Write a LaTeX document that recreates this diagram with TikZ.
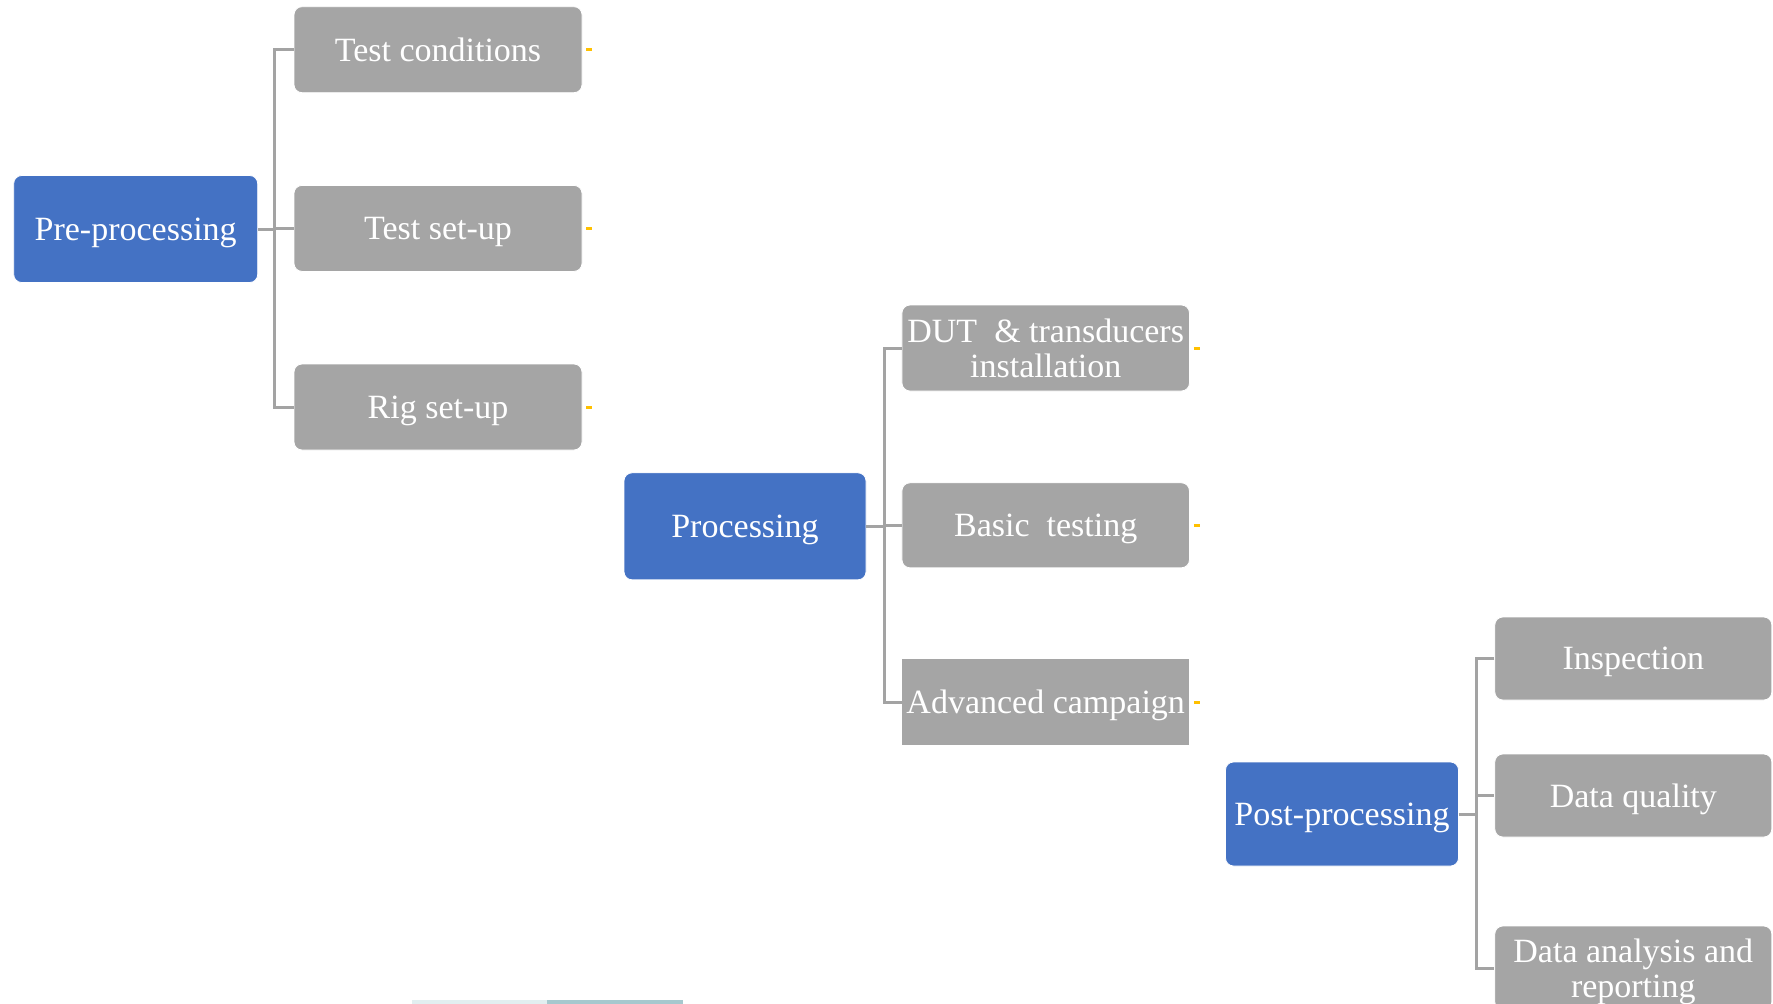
\documentclass[tikz,border=0pt]{standalone}
\usepackage{fontspec}
\setmainfont{Liberation Serif}
\definecolor{boxblue}{HTML}{4472C4}
\definecolor{boxgray}{HTML}{A5A5A5}
\definecolor{linegray}{HTML}{A3A3A3}
\definecolor{tickyellow}{HTML}{FFC000}
\definecolor{stripA}{HTML}{E2EEF0}
\definecolor{stripB}{HTML}{A6C8CE}
\begin{document}
\begin{tikzpicture}[x=1pt,y=-1pt,
  base/.style={rectangle, rounded corners=8pt, text=white, align=center, inner sep=0pt,
    font=\fontsize{34}{35}\selectfont, text depth=0pt, draw=white, line width=0.8pt},
  bluebox/.style={base, fill=boxblue},
  graybox/.style={base, fill=boxgray, minimum width=288pt, minimum height=86pt},
  conn/.style={draw=linegray, line width=3pt},
  tickmark/.style={draw=tickyellow, line width=3pt}]
\useasboundingbox (0,0) rectangle (1773,1004);
\clip (0,0) rectangle (1773,1004);
\fill[white] (0,0) rectangle (1773,1004);

% bracket coordinates
\coordinate (b1) at (274.8,0);
\coordinate (b2) at (884.5,0);
\coordinate (b3) at (1476.6,0);

% column 0: parents
\node[bluebox, minimum width=244pt, minimum height=107pt] (pre) at (135.7,229) {Pre-processing};
\node[bluebox, minimum width=242pt, minimum height=107pt] (proc) at (745,526.3) {Processing};
\node[bluebox, minimum width=233pt, minimum height=104pt] (post) at (1342,814) {Post-processing};

% column 1
\node[graybox] (tc) at (438,49.7) {Test conditions};
\node[graybox] (ts) at (438,228.4) {Test set-up};
\node[graybox] (rs) at (438,407) {Rig set-up};

% column 2
\node[graybox, minimum width=287.5pt] (dut) at (1045.7,348) {DUT\ \ \& transducers\\installation};
\node[graybox, minimum width=287.5pt, minimum height=85pt] (bt) at (1045.7,525.3) {Basic\ \ testing};
\node[graybox, minimum width=287.5pt, rounded corners=0pt, draw=none] (ac) at (1045.7,702) {Advanced campaign};

% column 3
\node[graybox, minimum width=277pt, minimum height=83pt] (insp) at (1633.3,658.5) {Inspection};
\node[graybox, minimum width=277pt, minimum height=83pt] (dq) at (1633.3,795.5) {Data quality};
\node[graybox, minimum width=277pt, minimum height=84pt] (da) at (1633.3,968) {Data analysis and\\reporting};

% connectors group 1
\draw[conn] (pre.east) -- (pre.east -| b1);
\draw[conn] (tc.west) -- (b1 |- tc.west) -- (b1 |- rs.west) -- (rs.west);
\draw[conn] (b1 |- ts.west) -- (ts.west);

% connectors group 2
\draw[conn] (proc.east) -- (proc.east -| b2);
\draw[conn] (dut.west) -- (b2 |- dut.west) -- (b2 |- ac.west) -- (ac.west);
\draw[conn] (b2 |- bt.west) -- (bt.west);

% connectors group 3
\draw[conn] (post.east) -- (post.east -| b3);
\draw[conn] (insp.west) -- (b3 |- insp.west) -- (b3 |- da.west) -- (da.west);
\draw[conn] (b3 |- dq.west) -- (dq.west);

% yellow ticks
\foreach \n in {tc,ts,rs,dut,bt,ac}
  \draw[tickmark] ([xshift=4pt]\n.east) -- ++(6,0);

% faint strip at bottom edge
\fill[stripA] (412,1000) rectangle (547,1004);
\fill[stripB] (547,1000) rectangle (683,1004);
\end{tikzpicture}
\end{document}
